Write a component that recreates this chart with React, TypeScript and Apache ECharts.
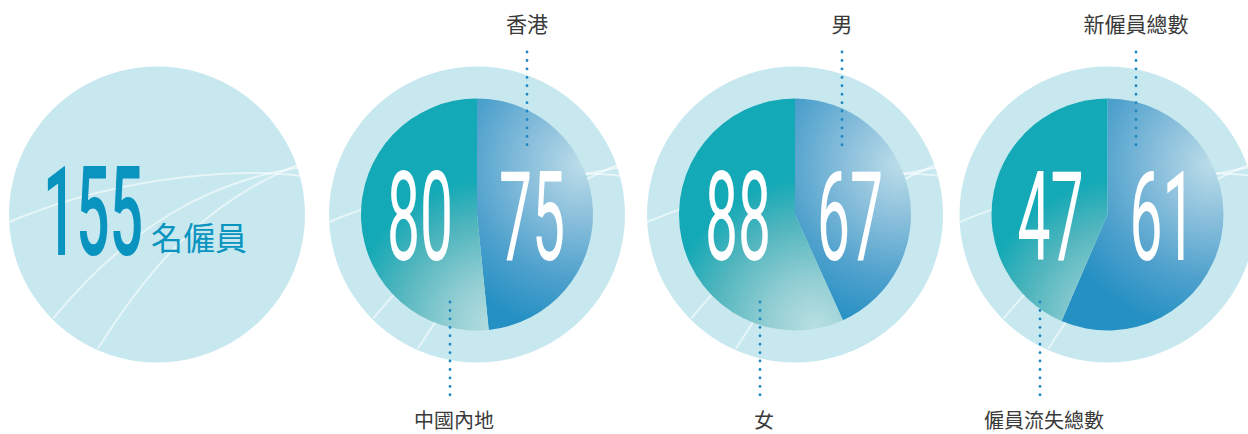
import React, { useEffect, useRef } from "react";
import * as echarts from "echarts";

// ---- data ----
const totalValue = 155;
const totalUnit = "名僱員";

const regionLabels = ["香港", "中國內地"];
const regionValues = [75, 80];

const genderLabels = ["男", "女"];
const genderValues = [67, 88];

const flowLabels = ["新僱員總數", "僱員流失總數"];
const flowValues = [61, 47];

// ---- layout / style ----
const W = 1248;
const H = 434;
const CY = 214.5;
const OUTER_R = 148;
const INNER_R = 116;
const circleCenters = [157, 477, 795, 1107.5];
const pieCenters = [477, 795, 1107.5];
// dotted-line x offsets relative to pie centre: [top (blue), bottom (teal)]
const leaderOffsets = [
  [50, -27],
  [47, -35],
  [28.5, -67.5],
];

const RING = "#c8e8ef";
const BLUE_TEXT = "#0994c0";
const DOT = "#1f87c2";
const LABEL = "#3a3a3a";
const NUM_FONT = "Roboto, 'Noto Sans', sans-serif";
const CJK_FONT = "'Noto Sans CJK TC', 'Noto Sans CJK SC', sans-serif";

const blueGrad = (cx: number) => ({
  type: "radial",
  x: cx + 105,
  y: CY - 50,
  r: 190,
  global: true,
  colorStops: [
    { offset: 0, color: "#bcdde9" },
    { offset: 0.3, color: "#88bedb" },
    { offset: 0.6, color: "#4fa1cd" },
    { offset: 0.88, color: "#2590c3" },
    { offset: 1, color: "#2590c3" },
  ],
});

const tealGrad = (cx: number) => ({
  type: "radial",
  x: cx + 20,
  y: CY + 112,
  r: 190,
  global: true,
  colorStops: [
    { offset: 0, color: "#b8dfe2" },
    { offset: 0.25, color: "#92ced3" },
    { offset: 0.55, color: "#50b5bd" },
    { offset: 0.78, color: "#14a9b6" },
    { offset: 1, color: "#13a9b6" },
  ],
});

function buildOption() {
  const groups = [
    { labels: regionLabels, values: regionValues },
    { labels: genderLabels, values: genderValues },
    { labels: flowLabels, values: flowValues },
  ];

  const graphic: any[] = [];

  // outer light circles
  circleCenters.forEach((cx) => {
    graphic.push({
      type: "circle",
      z: 0,
      silent: true,
      shape: { cx, cy: CY, r: OUTER_R },
      style: { fill: RING },
    });
    // decorative curves
    const curves = [
      [-149, 8, -60, -30, 60, -50, 150, -38],
      [-104, 104, -30, 15, 50, -35, 150, -48],
      [-59, 134, 0, 40, 60, -20, 150, -53],
    ];
    curves.forEach((c) => {
      graphic.push({
        type: "bezierCurve",
        z: 1,
        silent: true,
        shape: {
          x1: cx + c[0],
          y1: CY + c[1],
          cpx1: cx + c[2],
          cpy1: CY + c[3],
          cpx2: cx + c[4],
          cpy2: CY + c[5],
          x2: cx + c[6],
          y2: CY + c[7],
        },
        style: { stroke: "rgba(255,255,255,0.55)", lineWidth: 2, fill: null },
      });
    });
  });

  // first circle: total
  graphic.push({
    type: "text",
    z: 10,
    x: 93,
    y: 212.5,
    scaleX: 0.47,
    style: {
      text: String(totalValue),
      fill: BLUE_TEXT,
      font: `500 125px ${NUM_FONT}`,
      align: "center",
      verticalAlign: "middle",
    },
  });
  graphic.push({
    type: "text",
    z: 10,
    x: 151,
    y: 236,
    style: {
      text: totalUnit,
      fill: BLUE_TEXT,
      font: `32px ${CJK_FONT}`,
      align: "left",
      verticalAlign: "middle",
    },
  });

  const series: any[] = [];
  groups.forEach((g, i) => {
    const cx = pieCenters[i];
    series.push({
      type: "pie",
      z: 5,
      silent: true,
      center: [cx, CY],
      radius: [0, INNER_R],
      startAngle: 90,
      clockwise: true,
      label: { show: false },
      labelLine: { show: false },
      emphasis: { disabled: true },
      data: [
        { name: g.labels[0], value: g.values[0], itemStyle: { color: blueGrad(cx) } },
        { name: g.labels[1], value: g.values[1], itemStyle: { color: tealGrad(cx) } },
      ],
    });

    // numbers
    const nums = [
      { v: g.values[1], x: cx - 57 },
      { v: g.values[0], x: cx + 55 },
    ];
    nums.forEach((n) => {
      graphic.push({
        type: "text",
        z: 10,
        x: n.x,
        y: 217.5,
        scaleX: 0.47,
        style: {
          text: String(n.v),
          fill: "#ffffff",
          font: `400 125px ${NUM_FONT}`,
          align: "center",
          verticalAlign: "middle",
        },
      });
    });

    const [topOff, botOff] = leaderOffsets[i];
    // top leader + label
    graphic.push({
      type: "line",
      z: 10,
      silent: true,
      shape: { x1: cx + topOff, y1: 52, x2: cx + topOff, y2: 153 },
      style: { stroke: DOT, lineWidth: 2.8, lineDash: [0.1, 8.33], lineCap: "round" },
    });
    graphic.push({
      type: "text",
      z: 10,
      x: cx + topOff,
      y: 23,
      style: {
        text: g.labels[0],
        fill: LABEL,
        font: `21px ${CJK_FONT}`,
        align: "center",
        verticalAlign: "middle",
      },
    });
    // bottom leader + label
    graphic.push({
      type: "line",
      z: 10,
      silent: true,
      shape: { x1: cx + botOff, y1: 302, x2: cx + botOff, y2: 402 },
      style: { stroke: DOT, lineWidth: 2.8, lineDash: [0.1, 8.33], lineCap: "round" },
    });
    graphic.push({
      type: "text",
      z: 10,
      x: cx + botOff + 4,
      y: 419,
      style: {
        text: g.labels[1],
        fill: LABEL,
        font: `20px ${CJK_FONT}`,
        align: "center",
        verticalAlign: "middle",
      },
    });
  });

  return {
    animation: false,
    backgroundColor: "#ffffff",
    series,
    graphic,
  };
}

export default function App() {
  const ref = useRef<HTMLDivElement>(null);
  useEffect(() => {
    document.body.style.margin = "0";
    if (!ref.current) return;
    const chart = echarts.init(ref.current, null, { renderer: "svg" });
    chart.setOption(buildOption() as any);
    return () => chart.dispose();
  }, []);
  return <div ref={ref} style={{ width: W, height: H }} />;
}
